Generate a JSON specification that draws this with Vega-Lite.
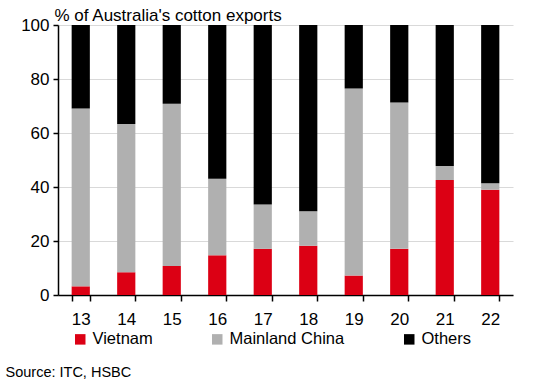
{
  "$schema": "https://vega.github.io/schema/vega-lite/v6.json",
  "autosize": {"type": "none"},
  "width": 455,
  "height": 270,
  "padding": {"left": 58, "top": 25, "right": 25, "bottom": 88},
  "background": "white",
  "config": {
    "view": {"stroke": null},
    "font": "Liberation Sans",
    "axis": {"labelFont": "Liberation Sans", "titleFont": "Liberation Sans", "labelColor": "black", "titleColor": "black"},
    "legend": {"labelFont": "Liberation Sans"}
  },
  "data": {
    "values": [
      {"year": "13", "series": "Vietnam", "k": 1, "value": 3.2},
      {"year": "13", "series": "Mainland China", "k": 2, "value": 65.9},
      {"year": "13", "series": "Others", "k": 3, "value": 30.9},
      {"year": "14", "series": "Vietnam", "k": 1, "value": 8.4},
      {"year": "14", "series": "Mainland China", "k": 2, "value": 54.9},
      {"year": "14", "series": "Others", "k": 3, "value": 36.7},
      {"year": "15", "series": "Vietnam", "k": 1, "value": 10.7},
      {"year": "15", "series": "Mainland China", "k": 2, "value": 60.1},
      {"year": "15", "series": "Others", "k": 3, "value": 29.2},
      {"year": "16", "series": "Vietnam", "k": 1, "value": 14.7},
      {"year": "16", "series": "Mainland China", "k": 2, "value": 28.4},
      {"year": "16", "series": "Others", "k": 3, "value": 56.9},
      {"year": "17", "series": "Vietnam", "k": 1, "value": 17.1},
      {"year": "17", "series": "Mainland China", "k": 2, "value": 16.4},
      {"year": "17", "series": "Others", "k": 3, "value": 66.5},
      {"year": "18", "series": "Vietnam", "k": 1, "value": 18.2},
      {"year": "18", "series": "Mainland China", "k": 2, "value": 12.8},
      {"year": "18", "series": "Others", "k": 3, "value": 69.0},
      {"year": "19", "series": "Vietnam", "k": 1, "value": 7.2},
      {"year": "19", "series": "Mainland China", "k": 2, "value": 69.3},
      {"year": "19", "series": "Others", "k": 3, "value": 23.5},
      {"year": "20", "series": "Vietnam", "k": 1, "value": 17.1},
      {"year": "20", "series": "Mainland China", "k": 2, "value": 54.2},
      {"year": "20", "series": "Others", "k": 3, "value": 28.7},
      {"year": "21", "series": "Vietnam", "k": 1, "value": 42.6},
      {"year": "21", "series": "Mainland China", "k": 2, "value": 5.2},
      {"year": "21", "series": "Others", "k": 3, "value": 52.2},
      {"year": "22", "series": "Vietnam", "k": 1, "value": 39.0},
      {"year": "22", "series": "Mainland China", "k": 2, "value": 2.4},
      {"year": "22", "series": "Others", "k": 3, "value": 58.6}
    ]
  },
  "mark": {"type": "bar"},
  "encoding": {
    "x": {
      "field": "year", "type": "ordinal",
      "scale": {"paddingInner": 0.6, "paddingOuter": 0.3},
      "axis": {
        "title": "Source: ITC, HSBC",
        "titleFontSize": 14.5, "titleFontWeight": "normal",
        "titleAnchor": "start", "titleAlign": "left", "titleBaseline": "alphabetic",
        "titleX": -53, "titleY": 81,
        "labelAngle": 0, "labelFontSize": 17, "labelPadding": 10,
        "tickBand": "extent", "tickSize": 6, "tickColor": "black", "tickWidth": 1.5,
        "domainColor": "black", "domainWidth": 1.5, "grid": false
      }
    },
    "y": {
      "field": "value", "type": "quantitative", "stack": "zero",
      "scale": {"domain": [0, 100], "nice": false},
      "axis": {
        "title": "% of Australia's cotton exports",
        "titleFontSize": 17, "titleFontWeight": "normal", "titleAngle": 0,
        "titleAlign": "left", "titleBaseline": "alphabetic",
        "titleX": -4, "titleY": -5,
        "values": [0, 20, 40, 60, 80, 100],
        "labelFontSize": 17, "labelPadding": 4,
        "tickSize": 5, "tickColor": "black", "tickWidth": 1.5,
        "domainColor": "black", "domainWidth": 1.5,
        "grid": true, "gridColor": "#d9d9d9", "gridWidth": 1.2
      }
    },
    "color": {
      "field": "series", "type": "nominal",
      "scale": {"domain": ["Vietnam", "Mainland China", "Others"], "range": ["#dc0014", "#b0b0b0", "#000000"]},
      "legend": {
        "title": null, "orient": "none", "legendX": 14, "legendY": 306,
        "direction": "horizontal", "columns": 3, "columnPadding": 56,
        "symbolType": "square", "symbolSize": 110, "symbolStrokeWidth": 0,
        "symbolOffset": 0, "labelOffset": 4, "labelFontSize": 16.5
      }
    },
    "order": {"field": "k", "type": "quantitative"}
  }
}
